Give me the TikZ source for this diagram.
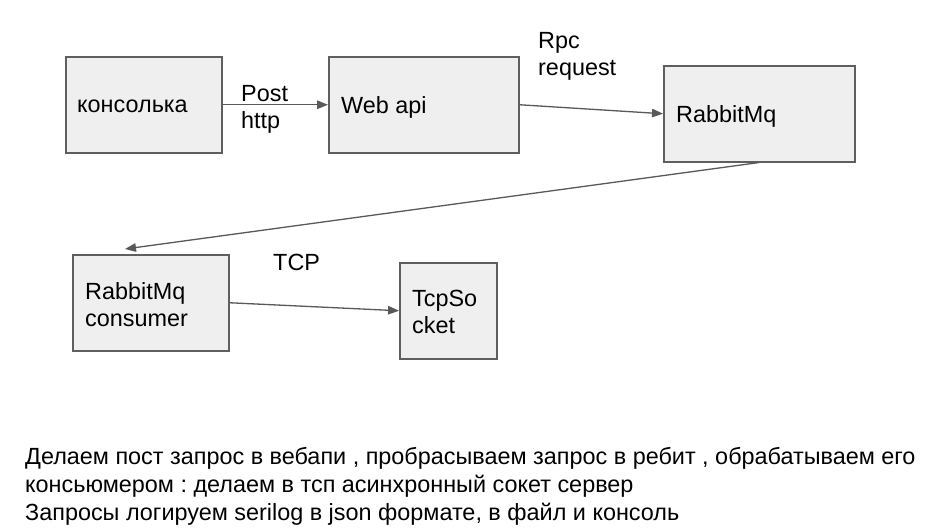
\documentclass[tikz,border=0pt]{standalone}
\usepackage{fontspec}
\setmainfont{Liberation Sans}
\usetikzlibrary{arrows.meta}
\definecolor{boxfill}{HTML}{EFEFEF}
\definecolor{boxline}{HTML}{5F5F5F}
\definecolor{arrline}{HTML}{595959}
\frenchspacing
\begin{document}
\begin{tikzpicture}[x=1pt,y=-1pt,
  box/.style={draw=boxline,fill=boxfill,line width=1.5pt,inner sep=0pt,anchor=north west},
  txt/.style={anchor=base west,inner sep=0pt,font=\fontsize{23.4}{27.5}\selectfont},
  btxt/.style={anchor=base west,inner sep=0pt,font=\fontsize{23.4}{28}\selectfont},
  arr/.style={draw=arrline,line width=1.3pt,-{Triangle[length=11pt,width=8.5pt]}}]
\useasboundingbox[fill=white] (0,0) rectangle (932,528);
% boxes
\node[box,minimum width=156pt,minimum height=96pt] (k) at (65,56) {};
\node[box,minimum width=190pt,minimum height=96pt] (w) at (328,56) {};
\node[box,minimum width=191pt,minimum height=96pt] (r) at (663,65) {};
\node[box,minimum width=156pt,minimum height=96pt] (c) at (72,254) {};
\node[box,minimum width=97pt,minimum height=96pt] (t) at (399,262) {};
% box texts
\node[txt] (kt) at (77,112) {консолька};
\node[txt] (wt) at (341,113) {Web api};
\node[txt] (rt) at (676,122) {RabbitMq};
\node[txt] (ct1) at (85,299) {RabbitMq};
\node[txt] (ct2) at (85,326) {consumer};
\node[txt] (tt1) at (412,306) {TcpSo};
\node[txt] (tt2) at (412,333) {cket};
% connector labels
\node[txt] (l1a) at (241,101) {Post};
\node[txt] (l1b) at (241,128) {http};
\node[txt] (l2a) at (538,48) {Rpc};
\node[txt] (l2b) at (538,75) {request};
\node[txt] (l3) at (273,270) {TCP};
% connectors
\coordinate (ctop) at ([xshift=53pt,yshift=5pt]c.north west);
\draw[arr] (k.east) -- (w.west);
\draw[arr] (w.east) -- (r.west);
\draw[arr] (r.south) -- (ctop);
\draw[arr] (c.east) -- (t.west);
% bottom text
\node[btxt] (b1) at (25,464) {Делаем пост запрос в вебапи , пробрасываем запрос в ребит , обрабатываем его};
\node[btxt] (b2) at (25,492) {консьюмером : делаем в тсп асинхронный сокет сервер};
\node[btxt] (b3) at (25,520) {Запросы логируем serilog в json формате, в файл и консоль};
\end{tikzpicture}
\end{document}
